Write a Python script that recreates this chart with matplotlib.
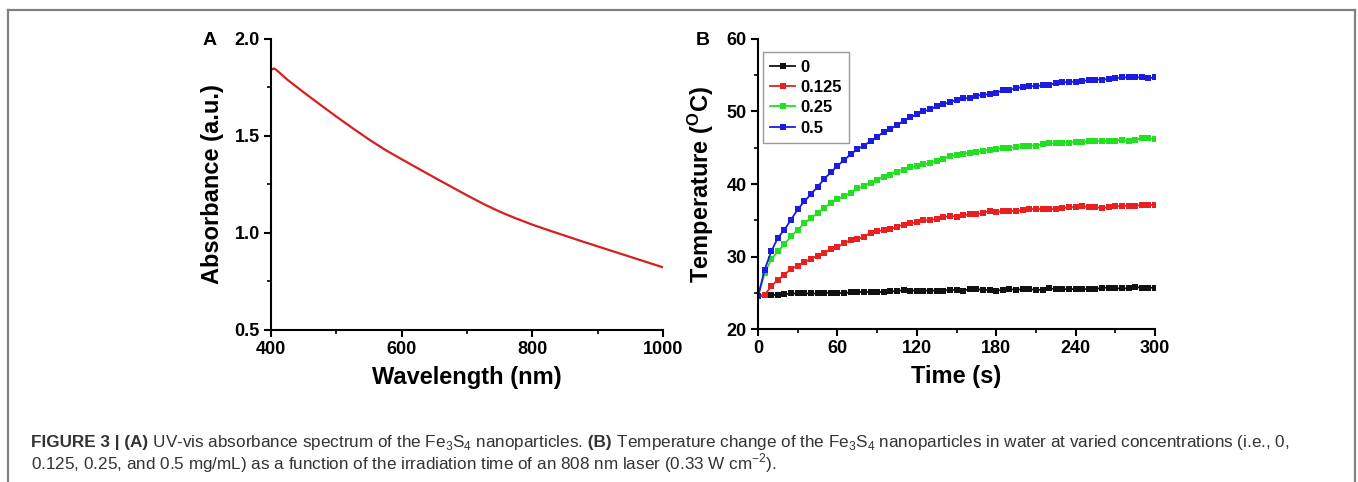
import numpy as np
import matplotlib
matplotlib.use('Agg')
import matplotlib.pyplot as plt
from matplotlib.lines import Line2D
from matplotlib.ticker import MultipleLocator

plt.rcParams['font.family'] = ['Liberation Sans', 'DejaVu Sans']
plt.rcParams['mathtext.fontset'] = 'custom'
plt.rcParams['mathtext.rm'] = 'Liberation Sans'
plt.rcParams['mathtext.bf'] = 'Liberation Sans:bold'

# Panel A: UV-vis spectrum
wavelength = [400, 405, 410, 425, 450, 475, 500, 525, 550, 575, 600, 625, 650,
              675, 700, 725, 750, 775, 800, 825, 850, 875, 900, 925, 950, 975, 1000]
absorbance = [1.842, 1.848, 1.835, 1.790, 1.725, 1.662, 1.600, 1.540, 1.482, 1.428, 1.380, 1.333, 1.286,
              1.240, 1.194, 1.150, 1.110, 1.075, 1.043, 1.014, 0.986, 0.958, 0.931, 0.904, 0.877, 0.850, 0.823]

# Panel B: heating curves, one point every 5 s
time_s = list(range(0, 305, 5))
temp_0 = [24.5, 24.7, 24.7, 24.7, 24.8, 24.9, 24.9, 24.9, 24.9, 24.9, 25.0, 25.0, 25.0,
          24.9, 25.1, 25.1, 25.1, 25.1, 25.1, 25.1, 25.2, 25.2, 25.4, 25.3, 25.3, 25.3,
          25.3, 25.3, 25.3, 25.4, 25.4, 25.3, 25.5, 25.5, 25.4, 25.4, 25.3, 25.4, 25.5,
          25.4, 25.5, 25.5, 25.4, 25.4, 25.6, 25.5, 25.5, 25.5, 25.5, 25.5, 25.5, 25.5,
          25.7, 25.7, 25.6, 25.6, 25.6, 25.8, 25.7, 25.7, 25.7]
temp_0125 = [24.5, 24.7, 25.9, 26.8, 27.5, 28.3, 28.7, 29.2, 29.7, 30.1, 30.5, 31.0, 31.3,
             31.8, 32.3, 32.4, 32.7, 33.3, 33.5, 33.6, 33.8, 34.1, 34.4, 34.6, 34.7, 35.0,
             35.0, 35.2, 35.4, 35.6, 35.5, 35.7, 35.8, 35.8, 36.0, 36.3, 36.1, 36.3, 36.3,
             36.3, 36.4, 36.5, 36.6, 36.5, 36.5, 36.6, 36.7, 36.8, 36.8, 36.9, 36.8, 36.8,
             36.7, 36.8, 36.9, 37.0, 37.0, 37.0, 37.1, 37.1, 37.1]
temp_025 = [24.5, 27.7, 29.6, 30.7, 31.7, 32.8, 33.7, 34.6, 35.3, 36.0, 36.7, 37.4, 37.9,
            38.3, 38.8, 39.4, 39.7, 40.2, 40.6, 41.0, 41.3, 41.7, 42.0, 42.3, 42.5, 42.7,
            42.9, 43.2, 43.5, 43.8, 44.0, 44.2, 44.3, 44.4, 44.6, 44.7, 44.8, 44.9, 45.0,
            45.1, 45.2, 45.3, 45.3, 45.5, 45.6, 45.6, 45.7, 45.7, 45.8, 45.8, 45.9, 45.9,
            45.9, 46.0, 46.0, 46.1, 45.9, 46.1, 46.3, 46.3, 46.2]
temp_05 = [24.5, 28.2, 30.7, 32.6, 33.7, 35.1, 36.5, 37.6, 38.6, 39.6, 40.7, 41.6, 42.5,
           43.3, 44.1, 44.8, 45.3, 45.9, 46.5, 47.2, 47.6, 48.1, 48.7, 49.2, 49.6, 50.0,
           50.3, 50.7, 51.0, 51.3, 51.6, 51.8, 51.9, 52.2, 52.3, 52.4, 52.6, 52.9, 53.0,
           53.2, 53.4, 53.5, 53.5, 53.6, 53.7, 53.9, 54.0, 54.1, 54.1, 54.2, 54.3, 54.4,
           54.4, 54.5, 54.6, 54.7, 54.7, 54.7, 54.7, 54.6, 54.7]
conc_labels = ['0', '0.125', '0.25', '0.5']
conc_colors = ['#111111', '#e82020', '#20e020', '#1c1ce0']

fig = plt.figure(figsize=(13.58, 4.82), dpi=100)


def style_axis(ax):
    for side in ['top', 'right']:
        ax.spines[side].set_visible(False)
    for side in ['left', 'bottom']:
        ax.spines[side].set_linewidth(1.5)
    ax.tick_params(which='major', direction='out', length=5, width=1.5, labelsize=13, pad=3)
    ax.tick_params(which='minor', direction='out', length=3, width=1.2)
    for lab in ax.get_xticklabels() + ax.get_yticklabels():
        lab.set_fontweight('bold')


# ---- Panel A
axA = fig.add_axes([0.1996, 0.3154, 0.2886, 0.6037])
axA.plot(wavelength, absorbance, color='#d91e1e', linewidth=1.6)
axA.set_xlim(400, 1000)
axA.set_ylim(0.5, 2.0)
axA.set_xticks([400, 600, 800, 1000])
axA.xaxis.set_minor_locator(MultipleLocator(100))
axA.set_yticks([0.5, 1.0, 1.5, 2.0])
axA.yaxis.set_minor_locator(MultipleLocator(0.25))
style_axis(axA)
axA.set_xlabel('Wavelength (nm)', fontsize=17, fontweight='bold', labelpad=6)
axA.set_ylabel('Absorbance (a.u.)', fontsize=17, fontweight='bold', labelpad=8)
fig.text(0.149, 0.915, 'A', fontsize=14, fontweight='bold', ha='left', va='center')

# ---- Panel B
axB = fig.add_axes([0.5582, 0.3174, 0.2923, 0.6017])
series = [temp_0, temp_0125, temp_025, temp_05]
for vals, lab, col in zip(series, conc_labels, conc_colors):
    axB.plot(time_s, vals, color=col, linewidth=1.3, marker='s', markersize=4.2,
             markeredgewidth=0, label=lab)
axB.set_xlim(0, 300)
axB.set_ylim(20, 60)
axB.set_xticks([0, 60, 120, 180, 240, 300])
axB.xaxis.set_minor_locator(MultipleLocator(30))
axB.set_yticks([20, 30, 40, 50, 60])
axB.yaxis.set_minor_locator(MultipleLocator(5))
style_axis(axB)
axB.set_xlabel('Time (s)', fontsize=17, fontweight='bold', labelpad=6)
axB.set_ylabel(r'Temperature ($\mathbf{^{O}}$C)', fontsize=17, fontweight='bold', labelpad=8)
leg = axB.legend(loc='upper left', bbox_to_anchor=(0.012, 0.955), frameon=True, fancybox=False,
                 edgecolor='#808080', handlelength=1.5, handletextpad=0.3, borderpad=0.45,
                 borderaxespad=0.0, labelspacing=0.32, prop={'weight': 'bold', 'size': 12})
leg.get_frame().set_linewidth(1.0)
fig.text(0.512, 0.915, 'B', fontsize=14, fontweight='bold', ha='left', va='center')

# ---- outer frame (left, top, right)
gx0, gx1, gy = 8 / 1358, 1355 / 1358, 1 - 10 / 482
for xs, ys in [([gx0, gx0], [0, gy]), ([gx0, gx1], [gy, gy]), ([gx1, gx1], [0, gy])]:
    fig.add_artist(Line2D(xs, ys, color='#808080', linewidth=1.6, transform=fig.transFigure))

# ---- caption, drawn as runs of regular and bold text
fig.canvas.draw()
renderer = fig.canvas.get_renderer()


def draw_runs(runs, x0, y0, size=12.3):
    x = x0
    for txt, weight in runs:
        t = fig.text(x, y0, txt, fontsize=size, fontweight=weight, color='#333333',
                     ha='left', va='baseline')
        bb = t.get_window_extent(renderer=renderer)
        x += bb.width / fig.bbox.width


line1 = [('FIGURE 3 | (A)', 'bold'),
         (r' UV-vis absorbance spectrum of the Fe$_3$S$_4$ nanoparticles.', 'normal'),
         (' (B)', 'bold'),
         (r' Temperature change of the Fe$_3$S$_4$ nanoparticles in water at varied concentrations (i.e., 0,', 'normal')]
line2 = [(r'0.125, 0.25, and 0.5 mg/mL) as a function of the irradiation time of an 808 nm laser (0.33 W cm$^{-2}$).', 'normal')]
draw_runs(line1, 31 / 1358, 1 - 447 / 482)
draw_runs(line2, 31 / 1358, 1 - 469 / 482)

fig.savefig('out.png', dpi=100)
